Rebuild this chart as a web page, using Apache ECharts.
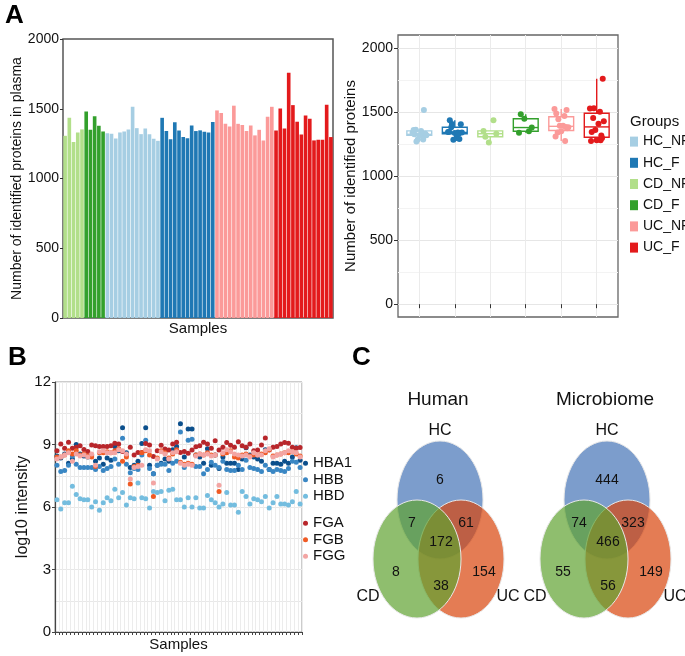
<!DOCTYPE html>
<html>
<head>
<meta charset="utf-8">
<script src="https://cdn.jsdelivr.net/npm/echarts@6/dist/echarts.min.js"></script>
<style>
  html, body { margin: 0; background: #fff; }
  #main { width: 685px; height: 656px; }
</style>
</head>
<body>
<div id="main"></div>
<script>
// ---- data ----
const groups = ['HC_NF', 'HC_F', 'CD_NF', 'CD_F', 'UC_NF', 'UC_F'];
const barOrder = ['CD_NF', 'CD_F', 'HC_NF', 'HC_F', 'UC_NF', 'UC_F'];
const groupColors = {
  HC_NF: '#a6cee3', HC_F: '#1f78b4', CD_NF: '#b2df8a',
  CD_F: '#33a02c', UC_NF: '#fb9a99', UC_F: '#e31a1c'
};

// proteins identified per sample
const cdNF = [1306, 1435, 1261, 1330, 1352];
const cdF = [1481, 1349, 1447, 1378, 1337];
const hcNF = [1325, 1321, 1287, 1330, 1337, 1352, 1514, 1361, 1318, 1359, 1318, 1285, 1270];
const hcF = [1435, 1340, 1282, 1404, 1344, 1297, 1289, 1380, 1340, 1345, 1335, 1330, 1405];
const ucNF = [1488, 1469, 1392, 1373, 1522, 1392, 1383, 1340, 1380, 1309, 1349, 1273, 1443, 1514];
const ucF = [1344, 1502, 1359, 1758, 1526, 1407, 1316, 1452, 1428, 1273, 1278, 1278, 1529, 1297];
const groupValues = { HC_NF: hcNF, HC_F: hcF, CD_NF: cdNF, CD_F: cdF, UC_NF: ucNF, UC_F: ucF };

// log10 intensity per sample (panel B)
const proteins = ['HBA1', 'HBB', 'HBD', 'FGA', 'FGB', 'FGG'];
const proteinColors = ['#0b4f8c', '#3a87c4', '#74bddf', '#b8262b', '#f05a24', '#f3a5a3'];
const hba1 = [8.45, 8.35, 8.55, 8.10, 8.30, 9.00, 8.55, 8.45, 8.40, 8.50,
  8.20, 8.35, 8.05, 8.35, 8.25, 8.90, 8.70, 9.80, 8.60, 7.90,
  8.00, 8.20, 9.05, 9.80, 8.00, 7.60, 8.00, 8.10, 8.30, 8.20,
  8.75, 8.90, 10.0, 8.40, 9.75, 9.75, 8.50, 8.40, 8.10, 8.80,
  8.00, 8.50, 7.85, 8.40, 8.10, 8.10, 8.10, 7.80, 8.30, 8.85,
  8.50, 8.40, 8.30, 8.20, 8.75, 7.80, 8.10, 8.10, 8.05, 8.20,
  8.10, 8.40, 8.85, 8.25];
const hbb = [8.00, 7.70, 7.75, 8.00, 8.45, 8.05, 7.90, 7.90, 7.90, 7.90,
  7.80, 7.95, 7.75, 7.85, 7.95, 8.30, 8.05, 9.30, 8.05, 7.65,
  7.85, 7.80, 8.50, 9.20, 7.85, 7.60, 8.00, 8.05, 8.05, 7.75,
  8.10, 8.20, 9.60, 7.90, 9.20, 9.25, 7.95, 7.95, 7.60, 7.80,
  8.15, 8.00, 7.90, 8.20, 7.80, 7.75, 7.75, 8.00, 7.80, 8.25,
  7.90, 7.85, 7.80, 7.70, 8.00, 7.80, 7.70, 7.80, 7.75, 7.70,
  7.85, 8.20, 8.15, 7.90];
const hbd = [6.35, 5.90, 6.20, 6.20, 7.00, 6.60, 6.40, 6.35, 6.35, 6.00,
  6.25, 5.85, 6.20, 6.45, 6.30, 6.85, 6.45, 6.70, 6.10, 6.45,
  6.40, 7.15, 6.45, 6.40, 5.95, 6.75, 6.70, 6.75, 6.30, 6.80,
  6.85, 6.35, 6.35, 6.00, 6.45, 6.00, 6.45, 5.95, 5.95, 6.55,
  6.35, 6.20, 6.00, 6.15, 6.70, 6.10, 6.10, 5.75, 6.75, 6.50,
  6.15, 6.40, 6.35, 6.25, 6.50, 5.95, 6.20, 6.50, 6.15, 6.15,
  6.10, 6.25, 6.75, 6.15];
const fga = [8.70, 9.02, 8.82, 9.11, 8.82, 8.87, 8.94, 8.76, 8.66, 8.98,
  8.94, 8.90, 8.90, 8.90, 8.94, 9.06, 9.02, 8.66, 8.50, 8.87,
  8.50, 8.62, 8.62, 9.05, 8.98, 8.42, 8.70, 8.97, 8.79, 8.74,
  9.02, 9.11, 8.62, 8.66, 8.58, 8.74, 8.89, 8.94, 9.11, 9.02,
  8.82, 9.18, 8.74, 8.87, 9.10, 8.97, 8.87, 9.13, 8.94, 8.87,
  9.03, 8.70, 8.74, 8.98, 9.31, 8.74, 8.87, 8.90, 9.03, 9.10,
  9.06, 8.87, 8.82, 8.86];
const fgb = [8.40, 8.40, 8.50, 8.70, 8.55, 8.70, 8.50, 8.55, 8.45, 8.40,
  7.95, 8.60, 8.60, 8.65, 8.60, 8.70, 8.80, 8.20, 8.40, 7.10,
  7.95, 8.00, 8.60, 8.70, 8.50, 6.50, 8.35, 8.70, 8.60, 8.35,
  8.55, 8.75, 8.15, 8.05, 8.10, 8.05, 8.50, 8.55, 8.50, 8.60,
  8.50, 8.50, 6.75, 8.55, 8.60, 8.70, 8.40, 8.35, 8.50, 8.55,
  8.45, 8.50, 8.50, 8.55, 8.60, 8.75, 8.45, 8.50, 8.55, 8.60,
  8.60, 8.65, 8.55, 8.45];
const fgg = [8.30, 8.40, 8.50, 8.60, 8.20, 8.55, 8.45, 8.50, 8.40, 8.55,
  8.00, 8.65, 8.70, 8.60, 8.60, 8.60, 8.75, 8.70, 8.55, 7.35,
  7.90, 7.95, 8.00, 8.75, 8.70, 7.15, 8.30, 8.65, 8.55, 8.30,
  8.60, 8.65, 8.10, 8.00, 8.05, 8.00, 8.45, 8.55, 8.50, 8.55,
  8.45, 8.50, 7.05, 8.60, 8.75, 8.65, 8.55, 8.50, 8.45, 8.50,
  8.40, 8.60, 8.50, 8.50, 8.70, 8.80, 8.40, 8.50, 8.55, 8.60,
  8.70, 8.65, 8.60, 8.40];
const intensities = [hba1, hbb, hbd, fga, fgb, fgg];

// Venn counts: HC only, HC&CD, HC&UC, all, CD only, CD&UC, UC only
const vennTitles = ['Human', 'Microbiome'];
const humanCounts = [6, 7, 61, 172, 8, 38, 154];
const microbiomeCounts = [444, 74, 323, 466, 55, 56, 149];

// horizontal jitter for box plot points (layout only)
const jitter = [-0.14, 0.09, -0.04, 0.17, -0.19, 0.05, 0.13, -0.1, 0.2, -0.16, 0.0, 0.11, -0.08, 0.15];

const FONT = "'Liberation Sans', Arial, sans-serif";

// ---- helpers ----
function quantile(sorted, p) {
  const h = (sorted.length - 1) * p;
  const lo = Math.floor(h);
  const hi = Math.ceil(h);
  return sorted[lo] + (h - lo) * (sorted[hi] - sorted[lo]);
}
function boxStats(values) {
  const s = values.slice().sort((a, b) => a - b);
  const q1 = quantile(s, 0.25), med = quantile(s, 0.5), q3 = quantile(s, 0.75);
  const iqr = q3 - q1;
  const inside = s.filter(v => v >= q1 - 1.5 * iqr && v <= q3 + 1.5 * iqr);
  return [inside[0], q1, med, q3, inside[inside.length - 1]];
}
const plain = v => String(v);

// ---- chart ----
const chart = echarts.init(document.getElementById('main'));

const barData = [];
barOrder.forEach(g => {
  groupValues[g].forEach(v => {
    barData.push({ value: v, itemStyle: { color: groupColors[g] } });
  });
});
const sampleNames = barData.map((d, i) => 'S' + (i + 1));

const boxData = groups.map((g, i) => [i + 1].concat(boxStats(groupValues[g])));

const jitterSeries = groups.map((g, i) => ({
  name: g,
  type: 'scatter',
  xAxisIndex: 1,
  yAxisIndex: 2,
  symbolSize: 6,
  itemStyle: { color: groupColors[g], opacity: 1 },
  data: groupValues[g].map((v, j) => [i + 1 + jitter[j % jitter.length], v]),
  z: 5
}));

const pointSeries = proteins.map((p, i) => ({
  name: p,
  type: 'scatter',
  xAxisIndex: 2,
  yAxisIndex: 3,
  symbolSize: 5,
  itemStyle: { color: proteinColors[i], opacity: 1 },
  data: intensities[i]
}));

// Venn graphics
function vennGraphic(cx, title, counts) {
  const cy = 500;
  const els = [
    { type: 'ellipse', shape: { cx: cx, cy: cy, rx: 43, ry: 59 },
      style: { fill: 'rgba(68,115,182,0.7)', stroke: '#e8e8e8', lineWidth: 1 } },
    { type: 'ellipse', shape: { cx: cx + 21, cy: cy + 59, rx: 43, ry: 59 },
      style: { fill: 'rgba(216,68,12,0.7)', stroke: '#e8e8e8', lineWidth: 1 } },
    { type: 'ellipse', shape: { cx: cx - 23, cy: cy + 59, rx: 44, ry: 59 },
      style: { fill: 'rgba(95,162,48,0.7)', stroke: '#e8e8e8', lineWidth: 1 } }
  ];
  const txt = (x, y, t, size) => ({
    type: 'text', x: x, y: y, z: 10,
    style: { text: String(t), fill: '#111', fontSize: size, fontFamily: FONT,
      align: 'center', verticalAlign: 'middle' }
  });
  els.push(txt(cx - 2, 400, title, 19));
  els.push(txt(cx, 431, 'HC', 16));
  els.push(txt(cx - 72, 597, 'CD', 16));
  els.push(txt(cx + 68, 597, 'UC', 16));
  const pos = [[0, 480], [-28, 523], [26, 523], [1, 542], [-44, 572], [1, 586], [44, 572]];
  counts.forEach((c, i) => els.push(txt(cx + pos[i][0], pos[i][1], c, 14)));
  return els;
}

const option = {
  backgroundColor: '#fff',
  animation: false,
  textStyle: { fontFamily: FONT },
  grid: [
    { left: 63, top: 39, width: 270, height: 279, show: true, borderColor: '#555', borderWidth: 1.5, backgroundColor: 'transparent' },
    { left: 398, top: 35, width: 220, height: 282, show: true, borderColor: '#666', borderWidth: 1.3, backgroundColor: 'transparent' },
    { left: 55, top: 382, width: 247, height: 250, show: true, borderColor: '#999', borderWidth: 1, backgroundColor: 'transparent' }
  ],
  xAxis: [
    {
      gridIndex: 0, type: 'category', data: sampleNames,
      axisLine: { show: false }, axisTick: { show: false }, axisLabel: { show: false },
      name: 'Samples', nameLocation: 'middle', nameGap: 3,
      nameTextStyle: { fontSize: 15, color: '#111', verticalAlign: 'top', fontFamily: FONT }
    },
    {
      gridIndex: 1, type: 'value', min: 0.4, max: 6.6,
      axisLine: { show: false },
      axisTick: { show: true, customValues: [1, 2, 3, 4, 5, 6], length: 4, lineStyle: { color: '#333' } },
      axisLabel: { show: false },
      splitLine: { show: true, lineStyle: { color: '#ebebeb', width: 1 } }
    },
    {
      gridIndex: 2, type: 'category', data: sampleNames, boundaryGap: true,
      axisLine: { show: true, lineStyle: { color: '#444', width: 1.2 } },
      axisTick: { show: true, interval: 0, length: 3, lineStyle: { color: '#444' } },
      axisLabel: { show: false },
      splitLine: { show: true, interval: 0, lineStyle: { color: '#ececec', width: 1 } },
      name: 'Samples', nameLocation: 'middle', nameGap: 5,
      nameTextStyle: { fontSize: 15, color: '#111', verticalAlign: 'top', fontFamily: FONT }
    }
  ],
  yAxis: [
    {
      gridIndex: 0, type: 'value', min: 0, max: 2000, interval: 500,
      axisLine: { show: false },
      axisTick: { show: true, length: 3, lineStyle: { color: '#333' } },
      axisLabel: { fontSize: 14, color: '#111', margin: 4, fontFamily: FONT, formatter: plain },
      splitLine: { show: false },
      name: 'Number of identified proteins in plasma', nameLocation: 'middle', nameGap: 37,
      nameTextStyle: { fontSize: 14, color: '#111', fontFamily: FONT }
    },
    {
      gridIndex: 1, type: 'value', min: -100, max: 2100,
      axisLine: { show: false },
      axisTick: { show: false, customValues: [250, 750, 1250, 1750] },
      axisLabel: { show: false },
      splitLine: { show: true, lineStyle: { color: '#f3f3f3', width: 1 } }
    },
    {
      gridIndex: 1, type: 'value', min: -100, max: 2100, position: 'left',
      axisLine: { show: false },
      axisTick: { show: true, customValues: [0, 500, 1000, 1500, 2000], length: 4, lineStyle: { color: '#333' } },
      axisLabel: { customValues: [0, 500, 1000, 1500, 2000], fontSize: 14, color: '#111', margin: 5,
        fontFamily: FONT, formatter: plain },
      splitLine: { show: true, lineStyle: { color: '#e6e6e6', width: 1.2 } },
      name: 'Number of identified proteins', nameLocation: 'middle', nameGap: 36,
      nameTextStyle: { fontSize: 15, color: '#111', fontFamily: FONT }
    },
    {
      gridIndex: 2, type: 'value', min: 0, max: 12, interval: 3,
      axisLine: { show: true, lineStyle: { color: '#444', width: 1.2 } },
      axisTick: { show: true, length: 3, lineStyle: { color: '#444' } },
      axisLabel: { fontSize: 15, color: '#111', margin: 4, fontFamily: FONT },
      splitLine: { show: true, lineStyle: { color: '#e8e8e8', width: 1 } },
      minorTick: { show: false, splitNumber: 2 },
      minorSplitLine: { show: true, lineStyle: { color: '#e8e8e8', width: 1 } },
      name: 'log10 intensity', nameLocation: 'middle', nameGap: 21,
      nameTextStyle: { fontSize: 16, color: '#111', fontFamily: FONT }
    }
  ],
  legend: [
    {
      data: groups, orient: 'vertical', left: 630, top: 131, padding: 0, itemGap: 0,
      icon: 'rect', itemWidth: 8, itemHeight: 10, selectedMode: false,
      textStyle: { fontSize: 14, color: '#111', lineHeight: 21.2, fontFamily: FONT }
    },
    {
      data: ['HBA1', 'HBB', 'HBD'], orient: 'vertical', left: 303, top: 455, padding: 0, itemGap: 0,
      icon: 'circle', itemWidth: 5, itemHeight: 5, selectedMode: false,
      textStyle: { fontSize: 15, color: '#111', lineHeight: 16.5, fontFamily: FONT }
    },
    {
      data: ['FGA', 'FGB', 'FGG'], orient: 'vertical', left: 303, top: 515, padding: 0, itemGap: 0,
      icon: 'circle', itemWidth: 5, itemHeight: 5, selectedMode: false,
      textStyle: { fontSize: 15, color: '#111', lineHeight: 16.5, fontFamily: FONT }
    }
  ],
  graphic: [
    { type: 'text', x: 5, y: 3, style: { text: 'A', fontSize: 26, fontWeight: 'bold', fill: '#000', fontFamily: FONT } },
    { type: 'text', x: 8, y: 345, style: { text: 'B', fontSize: 26, fontWeight: 'bold', fill: '#000', fontFamily: FONT } },
    { type: 'text', x: 352, y: 345, style: { text: 'C', fontSize: 26, fontWeight: 'bold', fill: '#000', fontFamily: FONT } },
    { type: 'text', x: 630, y: 114, style: { text: 'Groups', fontSize: 15, fill: '#111', fontFamily: FONT } }
  ].concat(vennGraphic(440, vennTitles[0], humanCounts), vennGraphic(607, vennTitles[1], microbiomeCounts)),
  series: [
    {
      name: 'Proteins', type: 'bar', xAxisIndex: 0, yAxisIndex: 0,
      barCategoryGap: '14%', data: barData
    },
    {
      name: 'box', type: 'custom', xAxisIndex: 1, yAxisIndex: 2, z: 3,
      renderItem: function (params, api) {
        const x = api.value(0);
        const c = groupColors[groups[params.dataIndex]];
        const hw = 0.35;
        const pLo = api.coord([x, api.value(1)]);
        const p1 = api.coord([x, api.value(2)]);
        const pm = api.coord([x, api.value(3)]);
        const p3 = api.coord([x, api.value(4)]);
        const pHi = api.coord([x, api.value(5)]);
        const l = api.coord([x - hw, 0])[0];
        const r = api.coord([x + hw, 0])[0];
        const ls = { stroke: c, lineWidth: 1.4, fill: null };
        return {
          type: 'group',
          children: [
            { type: 'line', shape: { x1: pLo[0], y1: pLo[1], x2: p1[0], y2: p1[1] }, style: ls },
            { type: 'line', shape: { x1: p3[0], y1: p3[1], x2: pHi[0], y2: pHi[1] }, style: ls },
            { type: 'rect', shape: { x: l, y: p3[1], width: r - l, height: p1[1] - p3[1] },
              style: { fill: '#fff', stroke: c, lineWidth: 1.4 } },
            { type: 'line', shape: { x1: l, y1: pm[1], x2: r, y2: pm[1] }, style: ls }
          ]
        };
      },
      data: boxData
    }
  ].concat(jitterSeries, pointSeries)
};

chart.setOption(option);
</script>
</body>
</html>
